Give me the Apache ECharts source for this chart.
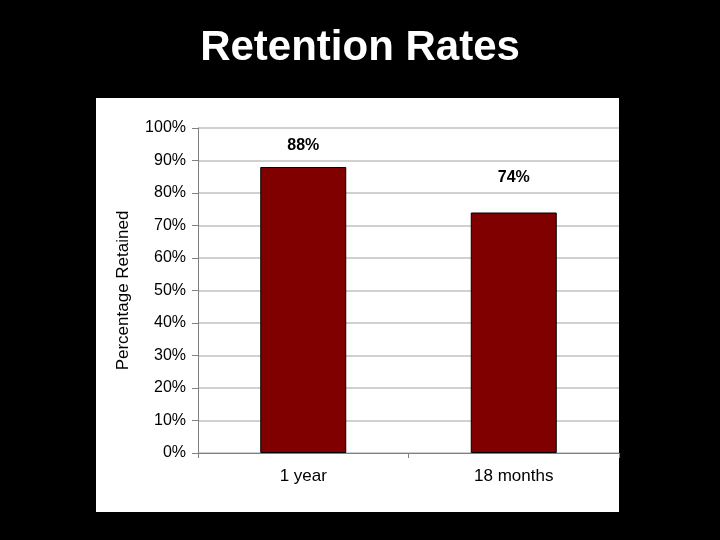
<!DOCTYPE html>
<html>
<head>
<meta charset="utf-8">
<script src="https://cdn.jsdelivr.net/npm/echarts@6/dist/echarts.min.js"></script>
<style>
  html, body { margin: 0; padding: 0; background: #000; }
  #chart { width: 720px; height: 540px; }
</style>
</head>
<body>
<div id="chart"></div>
<script>
  // data
  const categories = ['1 year', '18 months'];
  const retained = [88, 74];
  const labelOffsets = [[0, 0], [0, -14]];

  let chart = echarts.init(document.getElementById('chart'));
  chart.setOption({
    backgroundColor: '#000',
    animation: false,
    title: {
      text: 'Retention Rates',
      left: 'center',
      top: 22,
      textStyle: { color: '#fff', fontSize: 42, fontWeight: 'bold', fontFamily: 'Liberation Sans' }
    },
    graphic: [{
      type: 'rect',
      z: -10,
      shape: { x: 96, y: 98, width: 523, height: 414 },
      style: { fill: '#fff' }
    }],
    grid: { left: 198, top: 128, width: 421, height: 325 },
    xAxis: {
      type: 'category',
      data: categories,
      axisLine: { lineStyle: { color: '#808080' } },
      axisTick: { show: true, length: 5, lineStyle: { color: '#808080' } },
      axisLabel: { color: '#000', fontSize: 17, fontFamily: 'Liberation Sans', margin: 15 }
    },
    yAxis: {
      type: 'value',
      min: 0, max: 100, interval: 10,
      name: 'Percentage Retained',
      nameLocation: 'middle',
      nameGap: 66,
      nameTextStyle: { color: '#000', fontSize: 17, fontFamily: 'Liberation Sans' },
      axisLine: { show: true, lineStyle: { color: '#808080' } },
      axisTick: { show: true, length: 6, lineStyle: { color: '#808080' } },
      axisLabel: { color: '#000', fontSize: 16, fontFamily: 'Liberation Sans', margin: 12, formatter: '{value}%' },
      splitLine: { lineStyle: { color: '#c0c0c0', width: 1.5 } }
    },
    series: [{
      type: 'bar',
      barWidth: 86,
      data: retained.map((v, i) => ({ value: v, label: { offset: labelOffsets[i] } })),
      itemStyle: { color: '#800000', borderColor: '#000', borderWidth: 1 },
      label: {
        show: true,
        position: 'top',
        distance: 13,
        formatter: '{c}%',
        color: '#000',
        fontSize: 16,
        fontWeight: 'bold',
        fontFamily: 'Liberation Sans'
      }
    }]
  });
</script>
</body>
</html>
